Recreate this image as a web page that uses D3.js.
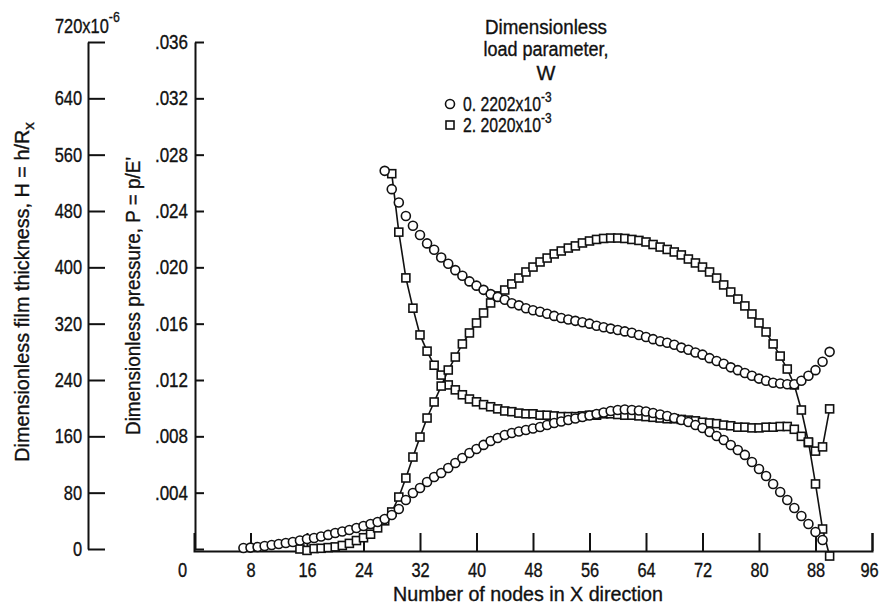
<!DOCTYPE html>
<html lang="en">
<head>
  <meta charset="UTF-8" />
  <title>Film thickness and pressure</title>
  <style>
    body { margin: 0; background: #fff; }
    svg { display: block; }
    text {
      font-family: "Liberation Sans", Arial, sans-serif;
      fill: #111;
      stroke: #111;
      stroke-width: 0.35px;
    }
    .tick text { font-size: 20px; }
    .domain, .tick line { stroke: #111; stroke-width: 2px; }
    .label { font-size: 20px; }
    .series-line { fill: none; stroke: #111; stroke-width: 1.6px; }
    .mark { fill: #fff; stroke: #111; stroke-width: 1.6px; }
  </style>
  <script src="https://d3js.org/d3.v7.min.js"></script>
</head>
<body>
  <div id="chart"></div>
  <script type="text/javascript">
    // tick values
    const nodeTicks = [0, 8, 16, 24, 32, 40, 48, 56, 64, 72, 80, 88, 96];
    const hTicks = [0, 80, 160, 240, 320, 400, 480, 560, 640, 720];
    const pTicks = [0, 0.004, 0.008, 0.012, 0.016, 0.020, 0.024, 0.028, 0.032, 0.036];

    // W = 0.2202x10^-3 (circles)
    const lowLoadPressureStart = 7;
    const lowLoadPressure = [
      0.00007, 0.0001, 0.00014, 0.00021, 0.00028, 0.00036, 0.00043, 0.0005, 0.0006, 0.00071,
      0.00078, 0.00089, 0.001, 0.00114, 0.00124, 0.00135, 0.00149, 0.00163, 0.00178, 0.00192,
      0.00213, 0.00241, 0.00284, 0.00348, 0.00398, 0.00433, 0.00476, 0.00511, 0.0054, 0.00575,
      0.00611, 0.00646, 0.00682, 0.0071, 0.00739, 0.00767, 0.00788, 0.0081, 0.00824, 0.00834,
      0.00845, 0.00856, 0.00866, 0.0088, 0.00895, 0.00905, 0.00916, 0.00927, 0.00937, 0.00948,
      0.00959, 0.00969, 0.0098, 0.00987, 0.00991, 0.00987, 0.00983, 0.00976, 0.00966, 0.00955,
      0.00944, 0.0093, 0.00916, 0.00902, 0.0088, 0.00859, 0.00831, 0.00802, 0.00774, 0.00738,
      0.00703, 0.00668, 0.00618, 0.00568, 0.00518, 0.00462, 0.00405, 0.00348, 0.00291, 0.00234,
      0.00178, 0.00121, 0.00064
    ];
    const lowLoadFilmStart = 27;
    const lowLoadFilm = [ // x10^-6
      537, 511, 492, 473, 459, 446, 434, 425, 414, 405,
      396, 388, 380, 374, 368, 362, 358, 354, 349, 346,
      342, 339, 337, 334, 331, 328, 326, 324, 322, 320,
      317, 315, 313, 311, 309, 307, 304, 301, 298, 295,
      293, 290, 286, 283, 279, 276, 271, 267, 263, 258,
      254, 250, 246, 242, 239, 236, 235, 234, 234, 239,
      246, 254, 266, 280
    ];

    // W = 2.2020x10^-3 (squares)
    const highLoadPressureStart = 15;
    const highLoadPressure = [
      0, -0.0001, 0.00003, 0.00005, 0.0001, 0.00015, 0.00025, 0.0004, 0.0006, 0.0008,
      0.00105, 0.0015, 0.002, 0.00263, 0.00369, 0.00504, 0.00653, 0.00795, 0.0093, 0.01044,
      0.01157, 0.01271, 0.01363, 0.01456, 0.01534, 0.01605, 0.01676, 0.01747, 0.01797, 0.01839,
      0.01882, 0.01924, 0.01967, 0.02002, 0.02038, 0.02066, 0.02095, 0.02116, 0.02137, 0.02152,
      0.02173, 0.02187, 0.02198, 0.02205, 0.02208, 0.02208, 0.02205, 0.02198, 0.02191, 0.0218,
      0.02162, 0.02144, 0.02127, 0.02109, 0.02088, 0.02059, 0.02031, 0.02002, 0.01967, 0.01924,
      0.01875, 0.01825, 0.01775, 0.01726, 0.01669, 0.01605, 0.01541, 0.01456, 0.0137, 0.01278,
      0.01165, 0.00987, 0.0076, 0.00462, 0.00142, -0.0005
    ];
    const highLoadFilmStart = 28;
    const highLoadFilm = [ // x10^-6
      533, 450, 385, 342, 304, 281, 261, 247, 233, 226,
      219, 213, 209, 205, 202, 199, 196, 195, 193, 192,
      192, 190, 190, 189, 188, 188, 188, 189, 190, 190,
      192, 192, 191, 190, 190, 189, 188, 187, 186, 185,
      185, 184, 183, 182, 180, 179, 178, 176, 175, 173,
      173, 172, 172, 173, 173, 174, 174, 170, 160, 151,
      139, 145, 199
    ];

    const width = 884, height = 609;

    const svg = d3.select("#chart").append("svg")
      .attr("width", width)
      .attr("height", height);

    const x = d3.scaleLinear().domain([0, 96]).range([194, 872]);
    const yH = d3.scaleLinear().domain([0, 720]).range([549, 42]);
    const yP = d3.scaleLinear().domain([0, 0.036]).range([549, 42]);

    const toPoints = (start, vals) => vals.map((v, i) => ({ n: start + i, v }));

    // squeeze a text to look like the narrow lettering of the original
    function squeeze(sel, factor, target) {
      sel.each(function () {
        const len = target || this.getComputedTextLength() * factor;
        d3.select(this).attr("textLength", len).attr("lengthAdjust", "spacingAndGlyphs");
      });
    }

    // film thickness axis
    const hAxis = svg.append("g")
      .attr("transform", "translate(88,0)")
      .call(d3.axisLeft(yH).tickValues(hTicks).tickSizeInner(-17).tickSizeOuter(0).tickPadding(6)
        .tickFormat(d => d === 720 ? "" : d));
    squeeze(hAxis.selectAll(".tick text").filter(d => d !== 720), 0.82);

    const topLabel = svg.append("text").attr("x", 55).attr("y", 33).style("font-size", "20px");
    squeeze(topLabel.append("tspan").text("720x10"), 0.82);
    squeeze(topLabel.append("tspan").attr("dy", -11).style("font-size", "15px").text("-6"), 0.82);

    // pressure axis
    const pAxis = svg.append("g")
      .attr("transform", "translate(195,0)")
      .call(d3.axisLeft(yP).tickValues(pTicks).tickSizeInner(-9).tickSizeOuter(0).tickPadding(7)
        .tickFormat(d => d === 0 ? "" : d3.format(".3f")(d).replace(/^0/, "")));
    squeeze(pAxis.selectAll(".tick text").filter(d => d !== 0), 0.85);

    // node axis
    const xAxis = svg.append("g")
      .attr("transform", `translate(0,${yP(0) + 2})`)
      .call(d3.axisBottom(x).tickValues(nodeTicks).tickSizeInner(-18).tickSizeOuter(-18).tickPadding(12)
        .tickFormat(d3.format("d")));
    xAxis.selectAll(".tick").filter(d => d === 0).select("line").remove();
    xAxis.selectAll(".tick").filter(d => d === 0).select("text").attr("x", -12);
    xAxis.selectAll(".tick").filter(d => d === 96).select("text").attr("x", -3);
    squeeze(xAxis.selectAll(".tick text"), 0.82);

    // axis titles
    const hTitle = svg.append("text")
      .attr("class", "label")
      .attr("text-anchor", "middle")
      .attr("transform", "translate(29,292) rotate(-90)");
    squeeze(hTitle.append("tspan").text("Dimensionless film thickness, H = h/R"), 1, 332);
    hTitle.append("tspan").attr("dy", 5).style("font-size", "15px").text("x");

    squeeze(svg.append("text")
      .attr("class", "label")
      .attr("text-anchor", "middle")
      .attr("transform", "translate(140,296) rotate(-90)")
      .text("Dimensionless pressure, P = p/E'"), 1, 278);

    squeeze(svg.append("text")
      .attr("class", "label")
      .attr("text-anchor", "middle")
      .attr("x", 528).attr("y", 601)
      .text("Number of nodes in  X direction"), 1, 270);

    // square series lines
    const lineH = d3.line().x(d => x(d.n)).y(d => yH(d.v));
    const lineP = d3.line().x(d => x(d.n)).y(d => yP(d.v));
    const hiFilm = toPoints(highLoadFilmStart, highLoadFilm);
    const hiPress = toPoints(highLoadPressureStart, highLoadPressure);
    const loFilm = toPoints(lowLoadFilmStart, lowLoadFilm);
    const loPress = toPoints(lowLoadPressureStart, lowLoadPressure);

    svg.append("path").attr("class", "series-line").attr("d", lineH(hiFilm));
    svg.append("path").attr("class", "series-line").attr("d", lineP(hiPress));

    const sq = 8;
    function drawSquares(data, yScale) {
      svg.append("g").selectAll("rect")
        .data(data)
        .enter().append("rect")
        .attr("class", "mark")
        .attr("x", d => x(d.n) - sq / 2)
        .attr("y", d => yScale(d.v) - sq / 2)
        .attr("width", sq)
        .attr("height", sq);
    }
    function drawCircles(data, yScale) {
      svg.append("g").selectAll("circle")
        .data(data)
        .enter().append("circle")
        .attr("class", "mark")
        .attr("cx", d => x(d.n))
        .attr("cy", d => yScale(d.v))
        .attr("r", 4.5);
    }
    drawSquares(hiFilm, yH);
    drawSquares(hiPress, yP);
    drawCircles(loFilm, yH);
    drawCircles(loPress, yP);

    // legend
    const legend = svg.append("g");
    [["Dimensionless", 34, 122], ["load parameter,", 56, 125], ["W", 80, 0]].forEach(([t, yy, w]) => {
      const el = legend.append("text").attr("class", "label").attr("text-anchor", "middle")
        .attr("x", 546).attr("y", yy).text(t);
      if (w) squeeze(el, 1, w);
    });
    const entries = [
      { label: "0. 2202x10", shape: "circle", y: 111 },
      { label: "2. 2020x10", shape: "square", y: 132 }
    ];
    entries.forEach(e => {
      if (e.shape === "circle") {
        legend.append("circle").attr("class", "mark").attr("cx", 450).attr("cy", e.y - 7).attr("r", 4.5);
      } else {
        legend.append("rect").attr("class", "mark").attr("x", 446).attr("y", e.y - 11).attr("width", sq).attr("height", sq);
      }
      const t = legend.append("text").attr("class", "label").attr("x", 463).attr("y", e.y);
      squeeze(t.append("tspan").text(e.label), 1, 78);
      squeeze(t.append("tspan").attr("dy", -9).style("font-size", "14px").text("-3"), 0.85);
    });
  </script>
</body>
</html>
